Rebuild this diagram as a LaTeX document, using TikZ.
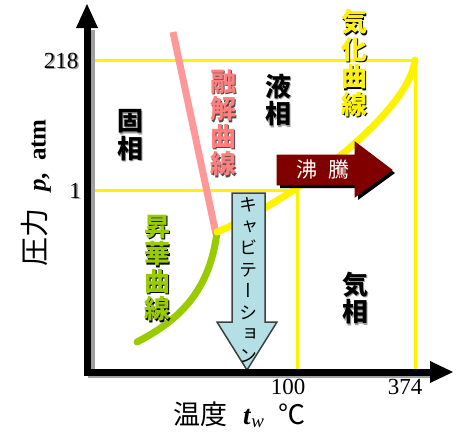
\documentclass[tikz,border=0pt]{standalone}
\usepackage{fontspec}
\setmainfont{Liberation Serif}
\newfontfamily\jp{Noto Sans CJK JP}
\newfontfamily\jpv{Noto Sans CJK JP}[RawFeature=+vert]
\definecolor{pinkline}{HTML}{FF9999}
\definecolor{pinktext}{HTML}{FF7F7F}
\definecolor{greenline}{HTML}{99CC00}
\definecolor{boilred}{HTML}{800000}
\definecolor{cavblue}{HTML}{B4DFE4}
\definecolor{cavedge}{HTML}{404040}
\definecolor{shadowgray}{HTML}{A0A0A0}
\tikzset{
  lbl/.style={inner sep=0pt, align=center, font=\jp\bfseries\fontsize{26}{27.5}\selectfont},
  numlbl/.style={inner sep=0pt, text height=16pt, text depth=0pt, font=\fontsize{23}{23}\selectfont},
  gridline/.style={yellow, line width=3pt},
  curvey/.style={line width=7pt},
}
\newcommand\shtext[7][lbl]{%
  \node[#1, text=#6] (#2s) at (#3+1.5,#4+1.5) {#7};
  \node[#1, text=#5] (#2) at (#3,#4) {#7};}
\begin{document}
\begin{tikzpicture}[x=1pt,y=-1pt]
\useasboundingbox (0,0) rectangle (457,434);
% grid lines
\draw[gridline] (88,60) -- (415,60) -- (415,372);
\draw[gridline] (88,190) -- (297,190) -- (297,372);
% curves
\draw[pinkline, line width=7pt] (173,32) -- (216,234);
\draw[greenline, curvey, line cap=round] (217,232) .. controls (210,290) and (180,320) .. (137,342);
\draw[yellow, curvey, line cap=round] (217,232) .. controls (300,197) and (410,110) .. (415,60);
% boiling arrow
\fill[black] (280,158) -- (358,158) -- (358,145) -- (395,173) -- (358,200) -- (358,188) -- (280,188) -- cycle;
\draw[boilred!90!black, fill=boilred, line width=0.8pt] (277,155) -- (355,155) -- (355,142) -- (392,170) -- (355,197) -- (355,185) -- (277,185) -- cycle;
\node[inner sep=0pt, text=white, font=\jp\fontsize{21}{21}\selectfont] (boil) at (323,170) {沸\hspace{12pt}騰};
% cavitation arrow
\draw[cavedge, fill=cavblue, line width=1.5pt, line join=miter] (232,193) -- (265,193) -- (265,322) -- (277,322) -- (247,370) -- (217,322) -- (232,322) -- cycle;
\node[inner sep=0pt, align=center, font=\jpv\fontsize{18}{21.5}\selectfont] (cav) at (248,280) {キ\\ャ\\ビ\\テ\\ー\\シ\\ョ\\ン};
% axes
\fill[shadowgray] (89,374) rectangle (95,30);
\fill[shadowgray] (88,374) rectangle (432,378);
\draw[black, line width=7pt] (87,375.5) -- (87,26);
\fill[black] (76,28) -- (98,28) -- (87,4) -- cycle;
\draw[black, line width=7pt] (83.5,372) -- (432,372);
\fill[black] (430,361) -- (430,383) -- (453,372) -- cycle;
% labels
\shtext{solid}{130}{135}{black}{shadowgray}{固\\相}
\shtext{liquid}{278}{100}{black}{shadowgray}{液\\相}
\shtext{gas}{355}{298}{black}{shadowgray}{気\\相}
\shtext{melt}{223}{123}{pinktext}{black!70}{融\\解\\曲\\線}
\shtext{vapor}{354}{63}{yellow}{black}{気\\化\\曲\\線}
\shtext{subl}{157}{268}{greenline}{black}{昇\\華\\曲\\線}
\shtext[numlbl]{n218}{61}{60}{black}{shadowgray}{218}
\shtext[numlbl]{n1}{75}{190}{black}{shadowgray}{1}
\node[numlbl] (n100) at (288,386) {100};
\node[numlbl] (n374) at (405,386) {374};
\node[inner sep=0pt, rotate=90, text height=20pt, text depth=5pt] (ylab) at (38,193) {{\jp\fontsize{29}{29}\selectfont 圧力}\hspace{17pt}{\fontsize{25}{25}\selectfont\textbf{\textit{p},}\hspace{12pt}\textbf{atm}}};
\node[inner sep=0pt, anchor=base west, text height=19pt, text depth=4pt] (xlab) at (173,424) {{\jp\fontsize{27}{27}\selectfont 温度}\hspace{16pt}{\fontsize{27}{27}\selectfont\textbf{\textit{t}}$_{\mathit{w}}$}\hspace{14pt}{\jp\fontsize{27}{27}\selectfont ℃}};
\end{tikzpicture}
\end{document}
